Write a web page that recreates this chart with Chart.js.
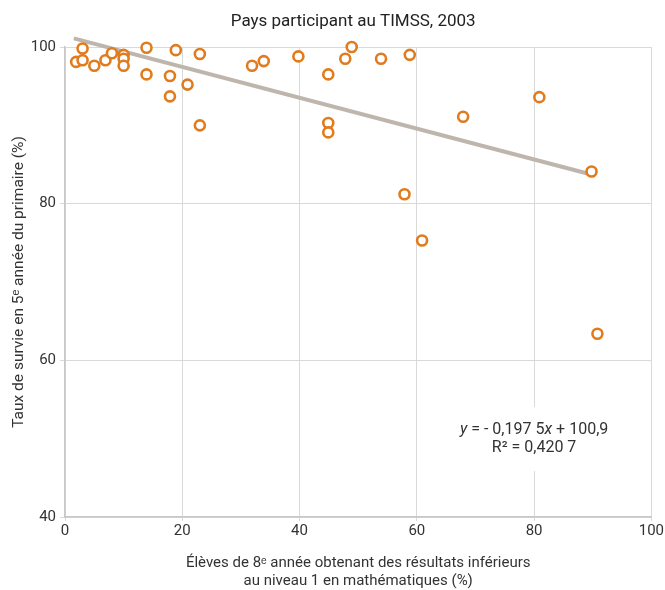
<!DOCTYPE html>
<html>
<head>
<meta charset="utf-8">
<script src="https://cdn.jsdelivr.net/npm/chart.js@4/dist/chart.umd.min.js"></script>
<style>
html,body{margin:0;padding:0;background:#fff;}
#wrap{width:665px;height:590px;}
</style>
</head>
<body>
<div id="wrap"><canvas id="c" width="665" height="590"></canvas></div>
<script>
const chartTitle = "Pays participant au TIMSS, 2003";
const xAxisTitle = ["Élèves de 8ᵉ année obtenant des résultats inférieurs", "au niveau 1 en mathématiques (%)"];
const yAxisTitle = "Taux de survie en 5ᵉ année du primaire (%)";
const xTicks = [0, 20, 40, 60, 80, 100];
const yTicks = [40, 60, 80, 100];
const belowLevel1 = [3.0, 1.9, 3.0, 5.0, 6.9, 8.0, 10.0, 10.0, 10.0, 13.9, 13.9, 17.9, 17.9, 18.9, 20.9, 23.0, 23.0, 31.9, 33.9, 39.8, 44.9, 47.8, 48.9, 53.9, 58.8, 44.9, 44.9, 67.9, 80.9, 89.8, 60.9, 57.9, 90.8];
const survivalRate = [99.8, 98.1, 98.3, 97.6, 98.3, 99.2, 99.0, 98.5, 97.6, 99.9, 96.5, 96.3, 93.7, 99.6, 95.2, 99.1, 90.0, 97.6, 98.2, 98.8, 96.5, 98.5, 100.0, 98.5, 99.0, 90.3, 89.1, 91.1, 93.6, 84.1, 75.3, 81.2, 63.4];
const trendX = [1.5, 90.4];
const trendY = [101.1, 83.6];
const equationText = ["y", " = - 0,197 5", "x", " + 100,9"];
const r2Text = "R² = 0,420 7";

const FONT = "'Roboto', 'Liberation Sans', sans-serif";
const ORANGE = "#E07B1E";
const GRID = "#d9d9d9";
const TEXT = "#333333";

const points = belowLevel1.map((x, i) => ({x: x, y: survivalRate[i]}));
const trend = trendX.map((x, i) => ({x: x, y: trendY[i]}));

const titlePlugin = {
  id: 'ctitle',
  afterDraw(chart) {
    const ctx = chart.ctx;
    ctx.save();
    ctx.font = "17px " + FONT;
    ctx.fillStyle = '#222';
    ctx.textAlign = 'center';
    ctx.textBaseline = 'middle';
    const a = chart.chartArea;
    ctx.fillText(chartTitle, (a.left + a.right) / 2 - 5, 22);
    ctx.restore();
  }
};

const annotationPlugin = {
  id: 'eqn',
  afterDatasetsDraw(chart) {
    const ctx = chart.ctx;
    const xs = chart.scales.x, ys = chart.scales.y;
    const cx = xs.getPixelForValue(80);
    const y1 = ys.getPixelForValue(51.1);
    const y2 = ys.getPixelForValue(48.8);
    ctx.save();
    ctx.fillStyle = '#ffffff';
    ctx.fillRect(cx - 80, y1 - 23, 160, 64);
    const normal = "16px " + FONT;
    const ital = "italic 16px " + FONT;
    const fonts = [ital, normal, ital, normal];
    let total = 0;
    const widths = equationText.map((t, i) => { ctx.font = fonts[i]; const w = ctx.measureText(t).width; total += w; return w; });
    let x = cx - total / 2;
    ctx.fillStyle = TEXT;
    ctx.textBaseline = 'middle';
    ctx.textAlign = 'left';
    equationText.forEach((t, i) => { ctx.font = fonts[i]; ctx.fillText(t, x, y1); x += widths[i]; });
    ctx.font = normal;
    ctx.textAlign = 'center';
    ctx.fillText(r2Text, cx, y2);
    ctx.restore();
  }
};

new Chart(document.getElementById('c'), {
  type: 'scatter',
  data: {
    datasets: [
      {
        type: 'scatter',
        data: points,
        pointStyle: 'circle',
        pointRadius: 5,
        pointHoverRadius: 5,
        pointBorderWidth: 2.6,
        pointBackgroundColor: '#ffffff',
        pointBorderColor: ORANGE,
        borderColor: ORANGE,
        backgroundColor: '#ffffff',
        clip: false,
        order: 1
      },
      {
        type: 'line',
        data: trend,
        borderColor: '#BEB6AC',
        borderWidth: 4,
        pointRadius: 0,
        fill: false,
        clip: false,
        order: 2
      }
    ]
  },
  options: {
    responsive: false,
    animation: false,
    devicePixelRatio: 1,
    layout: { padding: { left: 0, right: 12, top: 47, bottom: 0 } },
    plugins: {
      legend: { display: false },
      tooltip: { enabled: false },
      title: { display: false }
    },
    scales: {
      x: {
        type: 'linear',
        min: 0, max: 100,
        afterBuildTicks(scale) { scale.ticks = xTicks.map(v => ({value: v})); },
        afterFit(scale) { scale.height = 73; },
        grid: { color: GRID, lineWidth: 1, tickLength: 4, drawTicks: true },
        border: { color: '#c8c8c8', width: 1.5 },
        ticks: { color: TEXT, font: { family: FONT, size: 15 }, padding: 1 },
        title: {
          display: true,
          text: xAxisTitle,
          color: TEXT,
          font: { family: FONT, size: 15 },
          padding: { top: 2, bottom: 0 }
        }
      },
      y: {
        type: 'linear',
        min: 40, max: 100,
        afterBuildTicks(scale) { scale.ticks = yTicks.map(v => ({value: v})); },
        afterFit(scale) { scale.width = 65; },
        grid: { color: GRID, lineWidth: 1, tickLength: 5, drawTicks: true },
        border: { color: '#c8c8c8', width: 1.5 },
        ticks: { color: TEXT, font: { family: FONT, size: 15 }, padding: 4 },
        title: {
          display: true,
          text: yAxisTitle,
          color: TEXT,
          font: { family: FONT, size: 15.5 },
          padding: { top: 10, bottom: 0 }
        }
      }
    }
  },
  plugins: [annotationPlugin, titlePlugin]
});
</script>
</body>
</html>
